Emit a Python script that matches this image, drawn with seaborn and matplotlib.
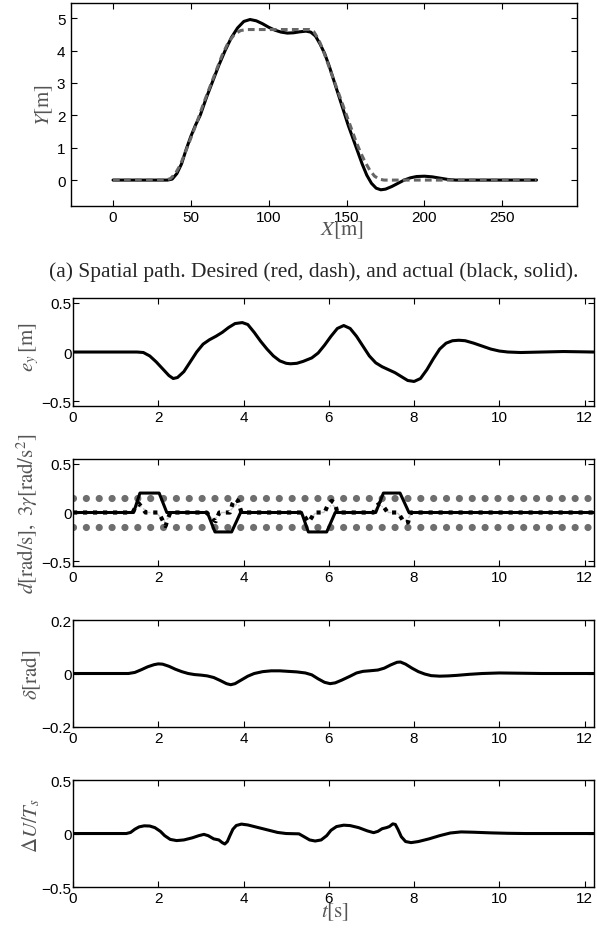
import matplotlib
matplotlib.use("Agg")
import matplotlib.pyplot as plt
import seaborn as sns

# (a) spatial path: actual (black, solid) and desired (dashed)
path_x = [0, 30, 35, 38, 41, 44, 47, 50, 53, 56, 60, 64, 68, 72, 76, 80, 84, 88, 92, 96,
          100, 104, 108, 112, 116, 120, 124, 127, 130, 133, 136, 139, 142, 145, 148, 151,
          154, 157, 160, 163, 166, 169, 172, 175, 179, 183, 187, 191, 195, 200, 205, 210,
          215, 220, 272]
path_y = [0, 0, 0.0, 0.03, 0.2, 0.5, 0.95, 1.35, 1.7, 2.0, 2.55, 3.05, 3.55, 4.0, 4.4, 4.7,
          4.9, 4.96, 4.92, 4.83, 4.72, 4.63, 4.57, 4.54, 4.55, 4.58, 4.6, 4.57, 4.45, 4.2,
          3.9, 3.5, 3.05, 2.6, 2.15, 1.7, 1.3, 0.9, 0.5, 0.15, -0.1, -0.25, -0.3, -0.28,
          -0.2, -0.1, 0.0, 0.07, 0.11, 0.12, 0.1, 0.06, 0.02, 0.0, 0]
ref_x = [0, 34, 37, 40, 43, 46, 50, 54, 58, 62, 66, 70, 74, 78, 82, 86, 126, 129, 132, 135,
         138, 141, 144, 147, 150, 153, 156, 159, 162, 165, 168, 171, 174, 272]
ref_y = [0, 0, 0.05, 0.2, 0.45, 0.8, 1.3, 1.8, 2.35, 2.85, 3.35, 3.85, 4.25, 4.5, 4.62, 4.65,
         4.65, 4.58, 4.35, 4.0, 3.6, 3.2, 2.8, 2.4, 2.0, 1.6, 1.2, 0.85, 0.55, 0.3, 0.12,
         0.03, 0, 0]

# lateral error e_y
ey_t = [0, 1.5, 1.65, 1.8, 1.95, 2.1, 2.25, 2.35, 2.45, 2.6, 2.75, 2.9, 3.05, 3.2, 3.35,
        3.5, 3.65, 3.8, 3.97, 4.1, 4.25, 4.4, 4.55, 4.7, 4.85, 5.0, 5.1, 5.25, 5.4, 5.6,
        5.75, 5.9, 6.05, 6.2, 6.35, 6.5, 6.65, 6.8, 6.95, 7.1, 7.25, 7.4, 7.55, 7.7, 7.85,
        8.0, 8.15, 8.3, 8.45, 8.6, 8.75, 8.9, 9.05, 9.2, 9.4, 9.6, 9.8, 10.0, 10.2, 10.5,
        11.0, 11.5, 12.22]
ey_v = [0, 0, -0.005, -0.04, -0.1, -0.17, -0.24, -0.27, -0.26, -0.2, -0.1, 0.0, 0.08,
        0.125, 0.16, 0.2, 0.25, 0.29, 0.3, 0.28, 0.2, 0.11, 0.03, -0.04, -0.09, -0.115,
        -0.12, -0.115, -0.095, -0.06, -0.01, 0.07, 0.16, 0.24, 0.27, 0.24, 0.16, 0.06,
        -0.04, -0.11, -0.15, -0.18, -0.21, -0.25, -0.29, -0.3, -0.27, -0.18, -0.07, 0.03,
        0.09, 0.115, 0.12, 0.115, 0.09, 0.06, 0.03, 0.01, 0.0, -0.005, 0.0, 0.005, 0]

# disturbance d (solid), 3*gamma (dotted), light dash-dot, bounds
d_t = [0, 1.42, 1.57, 2.02, 2.2, 3.15, 3.33, 3.72, 3.93, 5.36, 5.52, 5.95, 6.15, 7.1,
       7.28, 7.67, 7.88, 12.22]
d_v = [0, 0, 0.2, 0.2, 0, 0, -0.2, -0.2, 0, 0, -0.2, -0.2, 0, 0, 0.2, 0.2, 0, 0]
g_t = [0, 1.4, 1.47, 1.54, 1.62, 1.7, 2.0, 2.06, 2.12, 2.17, 2.22, 2.28,
       3.13, 3.2, 3.28, 3.35, 3.43, 3.68, 3.74, 3.8, 3.87, 3.95,
       5.36, 5.44, 5.52, 5.6, 5.66, 5.9, 5.99, 6.07, 6.14, 6.2,
       7.05, 7.12, 7.2, 7.3, 7.38, 7.62, 7.7, 7.78, 7.86, 7.92, 12.22]
g_v = [0, 0, 0.06, 0.095, 0.05, 0, 0, -0.045, -0.096, -0.14, -0.07, 0,
       0, -0.03, -0.07, -0.09, 0, 0, 0.09, 0.14, 0.12, 0,
       0, -0.045, -0.1, -0.05, 0, 0, 0.09, 0.12, 0.1, 0,
       0, 0.07, 0.095, 0.05, 0, 0, -0.055, -0.11, -0.1, 0, 0]
l_t = [0, 1.35, 1.45, 1.55, 1.65, 1.75, 1.95, 2.05, 2.15, 2.25, 2.32,
       3.1, 3.2, 3.3, 3.4, 3.48, 3.65, 3.75, 3.85, 3.93, 4.0,
       5.33, 5.43, 5.53, 5.62, 5.7, 5.88, 5.98, 6.08, 6.17, 6.24,
       7.03, 7.12, 7.22, 7.32, 7.4, 7.6, 7.7, 7.8, 7.88, 7.95, 12.22]
l_v = [0, 0, 0.05, 0.07, 0.04, 0, 0, -0.05, -0.09, -0.05, 0,
       0, -0.04, -0.07, -0.04, 0, 0, 0.05, 0.09, 0.05, 0,
       0, -0.04, -0.07, -0.04, 0, 0, 0.05, 0.08, 0.05, 0,
       0, 0.05, 0.07, 0.04, 0, 0, -0.05, -0.08, -0.05, 0, 0]
bound_t = [0, 12.22]
bound_hi = [0.15, 0.15]
bound_lo = [-0.15, -0.15]

# steering angle delta
delta_t = [0, 1.3, 1.45, 1.6, 1.75, 1.9, 2.0, 2.1, 2.25, 2.4, 2.55, 2.7, 2.85, 3.0, 3.15,
           3.3, 3.45, 3.6, 3.7, 3.8, 3.95, 4.1, 4.25, 4.45, 4.65, 4.85, 5.05, 5.25, 5.45,
           5.6, 5.75, 5.9, 6.03, 6.15, 6.3, 6.5, 6.65, 6.8, 6.95, 7.15, 7.3, 7.45, 7.6,
           7.68, 7.8, 7.95, 8.1, 8.25, 8.4, 8.6, 8.8, 9.0, 9.3, 9.6, 10.0, 10.5, 11.0, 12.22]
delta_v = [0, 0, 0.004, 0.014, 0.025, 0.033, 0.036, 0.035, 0.027, 0.016, 0.007, 0.0,
           -0.004, -0.006, -0.009, -0.015, -0.026, -0.038, -0.042, -0.038, -0.024, -0.01,
           0.0, 0.007, 0.01, 0.01, 0.008, 0.006, 0.002, -0.005, -0.02, -0.033, -0.038,
           -0.035, -0.025, -0.01, 0.002, 0.008, 0.01, 0.013, 0.02, 0.032, 0.042, 0.043,
           0.035, 0.02, 0.007, -0.002, -0.008, -0.01, -0.009, -0.007, -0.003, 0.0, 0.002,
           0.001, 0.0, 0]

# input rate dU/Ts
du_t = [0, 1.25, 1.35, 1.45, 1.55, 1.67, 1.8, 1.92, 2.05, 2.15, 2.28, 2.43, 2.6, 2.8,
        2.95, 3.07, 3.17, 3.3, 3.42, 3.5, 3.56, 3.62, 3.68, 3.75, 3.83, 3.95, 4.1, 4.3,
        4.55, 4.8, 5.0, 5.3, 5.42, 5.55, 5.68, 5.82, 5.95, 6.05, 6.18, 6.35, 6.5, 6.7,
        6.9, 7.05, 7.15, 7.25, 7.35, 7.42, 7.5, 7.56, 7.62, 7.7, 7.8, 7.93, 8.1, 8.35,
        8.6, 8.85, 9.1, 9.4, 9.8, 10.2, 10.6, 12.22]
du_v = [0, 0, 0.01, 0.04, 0.062, 0.072, 0.07, 0.055, 0.02, -0.02, -0.055, -0.066, -0.06,
        -0.04, -0.02, -0.008, -0.02, -0.05, -0.06, -0.085, -0.098, -0.075, -0.02, 0.04,
        0.075, 0.088, 0.08, 0.06, 0.035, 0.01, 0.0, -0.003, -0.03, -0.06, -0.07, -0.06,
        -0.02, 0.03, 0.065, 0.078, 0.074, 0.055, 0.025, 0.008, 0.02, 0.045, 0.055, 0.065,
        0.09, 0.085, 0.04, -0.03, -0.075, -0.085, -0.075, -0.05, -0.02, 0.005, 0.015,
        0.012, 0.006, 0.002, 0.0, 0]

path_xticks = [0, 50, 100, 150, 200, 250]
path_yticks = [0, 1, 2, 3, 4, 5]
t_ticks = [0, 2, 4, 6, 8, 10, 12]
yticks_half = [-0.5, 0, 0.5]
ylabels_half = ["\u22120.5", "0", "0.5"]
yticks_delta = [-0.2, 0, 0.2]
ylabels_delta = ["\u22120.2", "0", "0.2"]

sns.set_theme(style="white")
plt.rcParams["font.family"] = ["Liberation Sans", "DejaVu Sans"]
plt.rcParams["mathtext.fontset"] = "stix"
plt.rcParams["axes.edgecolor"] = "black"
plt.rcParams["axes.linewidth"] = 1.0

label_gray = "#555555"
fig = plt.figure(figsize=(5.97, 9.29), dpi=100)


def style_axes(ax, ypad):
    ax.tick_params(direction="in", top=True, right=True, length=4, width=0.8,
                   colors="black", labelsize=11, bottom=True, left=True)
    ax.tick_params(axis="y", pad=ypad)
    ax.tick_params(axis="x", pad=3)
    for s in ax.spines.values():
        s.set_color("black")
        s.set_linewidth(1.0)


def line(ax, x, y, **kw):
    sns.lineplot(x=x, y=y, ax=ax, estimator=None, sort=False, **kw)


# panel (a)
ax1 = fig.add_axes([0.1189, 0.7772, 0.8476, 0.2185])
line(ax1, path_x, path_y, color="black", lw=2.2)
line(ax1, ref_x, ref_y, color="#666666", lw=2.2, linestyle=(0, (2.2, 1.4)))
ax1.set_xlim(-27, 298)
ax1.set_ylim(-0.8, 5.47)
ax1.set_xticks(path_xticks)
ax1.set_yticks(path_yticks)
ax1.set_xticklabels([str(v) for v in path_xticks])
ax1.set_yticklabels([str(v) for v in path_yticks])
style_axes(ax1, 4)
ax1.set_xlabel(r"$X[\mathrm{m}]$", fontsize=15, color=label_gray)
ax1.set_ylabel(r"$Y[\mathrm{m}]$", fontsize=15, color=label_gray)
ax1.xaxis.set_label_coords(0.536, -0.113)
ax1.xaxis.label.set_va("center")
ax1.yaxis.set_label_coords(-0.052, 0.5)
ax1.yaxis.label.set_va("center")

fig.text(0.525, 1 - 272 / 929, "(a) Spatial path. Desired (red, dash), and actual (black, solid).",
         ha="center", va="center", fontsize=15.5, family=["Liberation Serif", "DejaVu Serif"])

lower = [(0.6781, 0.5619), (0.5048, 0.3897), (0.3315, 0.2164), (0.1593, 0.0441)]
axes = []
for top, bot in lower:
    ax = fig.add_axes([0.1223, bot, 0.8727, top - bot])
    ax.set_xlim(0, 12.22)
    ax.set_xticks(t_ticks)
    ax.set_xticklabels([str(v) for v in t_ticks])
    axes.append(ax)
ax2, ax3, ax4, ax5 = axes

# e_y
line(ax2, ey_t, ey_v, color="black", lw=2.2)
ax2.set_ylim(-0.55, 0.55)
ax2.set_yticks(yticks_half)
ax2.set_yticklabels(ylabels_half)
ax2.set_ylabel(r"$e_y\,[\mathrm{m}]$", fontsize=15, color=label_gray)
ax2.yaxis.set_label_coords(-0.0845, 0.55)

# d and 3 gamma
dot_style = dict(color="#6e6e6e", lw=5.2, linestyle=(0, (0.001, 1.78)), dash_capstyle="round")
line(ax3, bound_t, bound_hi, **dot_style)
line(ax3, bound_t, bound_lo, **dot_style)
line(ax3, l_t, l_v, color="#c4c4c4", lw=1.0, linestyle="-.")
line(ax3, d_t, d_v, color="black", lw=2.2)
line(ax3, g_t, g_v, color="black", lw=3.0, linestyle=(0, (1, 1.4)))
ax3.set_ylim(-0.55, 0.55)
ax3.set_yticks(yticks_half)
ax3.set_yticklabels(ylabels_half)
ax3.set_ylabel(r"$d[\mathrm{rad/s}],\ 3\gamma[\mathrm{rad/s}^2]$", fontsize=15, color=label_gray)
ax3.yaxis.set_label_coords(-0.088, 0.5)

# delta
line(ax4, delta_t, delta_v, color="black", lw=2.2)
ax4.set_ylim(-0.2, 0.2)
ax4.set_yticks(yticks_delta)
ax4.set_yticklabels(ylabels_delta)
ax4.set_ylabel(r"$\delta[\mathrm{rad}]$", fontsize=15, color=label_gray)
ax4.yaxis.set_label_coords(-0.081, 0.5)

# dU/Ts
line(ax5, du_t, du_v, color="black", lw=2.2)
ax5.set_ylim(-0.5, 0.5)
ax5.set_yticks(yticks_half)
ax5.set_yticklabels(ylabels_half)
ax5.set_ylabel(r"$\Delta U/T_s$", fontsize=15, color=label_gray)
ax5.yaxis.set_label_coords(-0.081, 0.58)
ax5.set_xlabel(r"$t[\mathrm{s}]$", fontsize=15, color=label_gray)
ax5.xaxis.set_label_coords(0.503, -0.224)
ax5.xaxis.label.set_va("center")

for ax in axes:
    style_axes(ax, 1)
    ax.yaxis.label.set_va("center")

fig.savefig("out.png", dpi=100)
